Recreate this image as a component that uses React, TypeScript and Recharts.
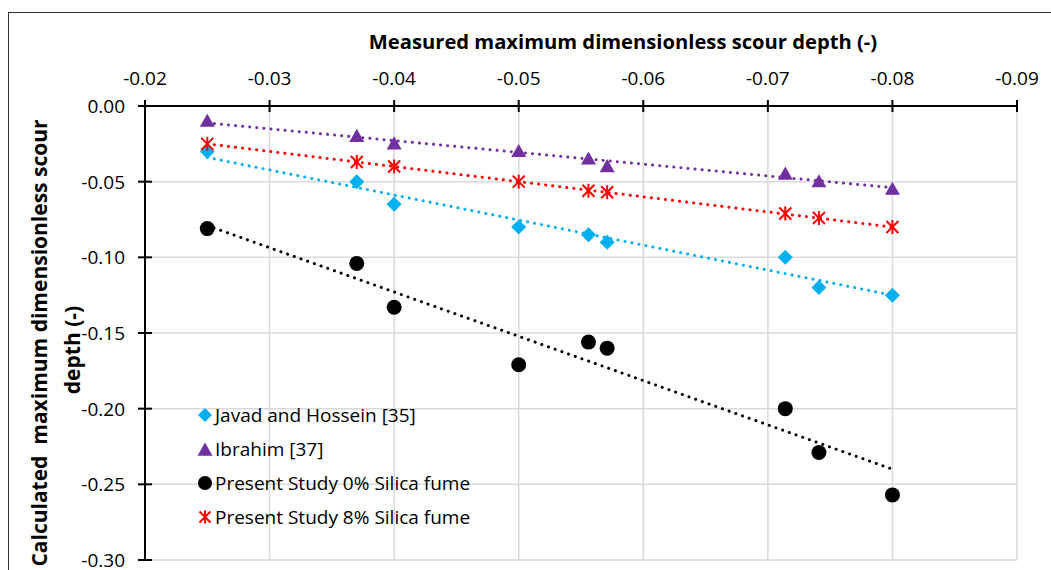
import React from 'react';
import { ScatterChart, Scatter, XAxis, YAxis, CartesianGrid, Legend } from 'recharts';

// ---- data ----
const measured = [-0.025, -0.037, -0.04, -0.05, -0.0556, -0.0571, -0.0714, -0.0741, -0.08];
const javad = [-0.03, -0.05, -0.065, -0.08, -0.085, -0.09, -0.1, -0.12, -0.125];
const ibrahim = [-0.01, -0.02, -0.025, -0.03, -0.035, -0.04, -0.045, -0.05, -0.055];
const silica0 = [-0.081, -0.104, -0.133, -0.171, -0.156, -0.16, -0.2, -0.229, -0.257];
const silica8 = [-0.025, -0.037, -0.04, -0.05, -0.056, -0.057, -0.071, -0.074, -0.08];

// trendline end points
const trendX = [-0.025, -0.08];
const javadTrend = [-0.034, -0.125];
const ibrahimTrend = [-0.0112, -0.054];
const silica0Trend = [-0.079, -0.24];
const silica8Trend = [-0.025, -0.08];

const xTicks = [-0.02, -0.03, -0.04, -0.05, -0.06, -0.07, -0.08, -0.09];
const yTicks = [0, -0.05, -0.1, -0.15, -0.2, -0.25, -0.3];

const seriesNames = [
  'Javad and Hossein [35]',
  'Ibrahim [37]',
  'Present Study 0% Silica fume',
  'Present Study 8% Silica fume',
];
const xTitle = 'Measured maximum dimensionless scour depth (-)';
const yTitle1 = 'Calculated  maximum dimensionless scour';
const yTitle2 = 'depth (-)';

const CYAN = '#00B0F0';
const PURPLE = '#7030A0';
const RED = '#FF0000';
const BLACK = '#000000';
const FONT = '"Open Sans", sans-serif';

const pts = (xs: number[], ys: number[]) => xs.map((x, i) => ({ x, y: ys[i] }));

const X_TICK_SIZE = 8;
const X_TICK_MARGIN = 0;
const Y_TICK_SIZE = 8;
const Y_TICK_MARGIN = 0;

const XTick = (props: any) => {
  const { x, y, payload } = props;
  const axisY = y + X_TICK_SIZE + X_TICK_MARGIN;
  return (
    <g>
      <line x1={x} x2={x} y1={axisY - 6} y2={axisY + 6} stroke="#000" strokeWidth={2} />
      <text x={x} y={axisY - 21} textAnchor="middle" fontFamily={FONT} fontSize={19} fill="#000">
        {Number(payload.value).toFixed(2)}
      </text>
    </g>
  );
};

const YTick = (props: any) => {
  const { x, y, payload } = props;
  const axisX = x + Y_TICK_SIZE + Y_TICK_MARGIN;
  return (
    <g>
      <line x1={axisX - 7} x2={axisX + 7} y1={y} y2={y} stroke="#000" strokeWidth={2} />
      <text x={axisX - 20} y={y} dy="0.36em" textAnchor="end" fontFamily={FONT} fontSize={19} fill="#000">
        {Number(payload.value).toFixed(2)}
      </text>
    </g>
  );
};

const Diamond = ({ cx, cy, s = 7.5 }: any) => (
  <polygon points={`${cx},${cy - s} ${cx + s},${cy} ${cx},${cy + s} ${cx - s},${cy}`} fill={CYAN} />
);
const Triangle = ({ cx, cy, s = 7.5 }: any) => (
  <polygon points={`${cx},${cy - s} ${cx + s},${cy + s * 0.75} ${cx - s},${cy + s * 0.75}`} fill={PURPLE} />
);
const Dot = ({ cx, cy, s = 7.5 }: any) => <circle cx={cx} cy={cy} r={s} fill={BLACK} />;
const Aster = ({ cx, cy, s = 6 }: any) => (
  <g stroke={RED} strokeWidth={2}>
    <line x1={cx - s} y1={cy - s} x2={cx + s} y2={cy + s} />
    <line x1={cx - s} y1={cy + s} x2={cx + s} y2={cy - s} />
    <line x1={cx} y1={cy - s - 1} x2={cx} y2={cy + s + 1} />
  </g>
);
const Nothing = () => <g />;

const legendShapes = [
  (c: number) => <Diamond cx={c} cy={c} s={7} />,
  (c: number) => <Triangle cx={c} cy={c + 1} s={7.5} />,
  (c: number) => <Dot cx={c} cy={c} s={7} />,
  (c: number) => <Aster cx={c} cy={c} s={5.5} />,
];

const renderLegend = () => (
  <div style={{ fontFamily: FONT, fontSize: 19, color: '#000' }}>
    {seriesNames.map((n, i) => (
      <div key={n} style={{ height: 34, display: 'flex', alignItems: 'center', whiteSpace: 'nowrap' }}>
        <svg width={18} height={18} style={{ marginRight: 1 }}>
          {legendShapes[i](9)}
        </svg>
        <span>{n}</span>
      </div>
    ))}
  </div>
);

const dotted = (color: string) => ({
  stroke: color,
  strokeWidth: 3,
  strokeDasharray: '0.1 7',
  strokeLinecap: 'round' as const,
});

export default function App() {
  return (
    <div style={{ position: 'absolute', left: 0, top: 0, width: 1051, height: 570, overflow: 'hidden', background: '#fff' }}>
      <div
        style={{
          position: 'absolute',
          left: 8,
          top: 12,
          width: 1100,
          height: 700,
          border: '1.5px solid #333',
          boxSizing: 'border-box',
        }}
      />
      <div style={{ position: 'absolute', left: 0, top: 0 }}>
        <ScatterChart width={1051} height={570} margin={{ top: 66, right: 34, bottom: 10, left: 85 }}>
          <CartesianGrid stroke="#D9D9D9" strokeWidth={1.5} />
          <XAxis
            dataKey="x"
            type="number"
            orientation="top"
            reversed
            domain={[-0.09, -0.02]}
            ticks={xTicks}
            interval={0}
            height={40}
            tickSize={X_TICK_SIZE}
            tickMargin={X_TICK_MARGIN}
            tickLine={false}
            axisLine={{ stroke: '#000', strokeWidth: 2 }}
            tick={<XTick />}
            allowDataOverflow
            label={{
              content: () => (
                <text x={623} y={49} textAnchor="middle" fontFamily={FONT} fontWeight="bold" fontSize={20.2} fill="#000">
                  {xTitle}
                </text>
              ),
            }}
          />
          <YAxis
            dataKey="y"
            type="number"
            domain={[-0.3, 0]}
            ticks={yTicks}
            interval={0}
            width={60}
            tickSize={Y_TICK_SIZE}
            tickMargin={Y_TICK_MARGIN}
            tickLine={false}
            axisLine={{ stroke: '#000', strokeWidth: 2 }}
            tick={<YTick />}
            allowDataOverflow
            label={{
              content: () => (
                <g fontFamily={FONT} fontWeight="bold" fontSize={21} fill="#000">
                  <text x={47} y={343} transform="rotate(-90 47 343)" textAnchor="middle" style={{ whiteSpace: 'pre' }}>
                    {yTitle1}
                  </text>
                  <text x={80} y={350} transform="rotate(-90 80 350)" textAnchor="middle">
                    {yTitle2}
                  </text>
                </g>
              ),
            }}
          />
          <Legend
            layout="vertical"
            align="center"
            verticalAlign="middle"
            content={renderLegend}
            wrapperStyle={{ position: 'absolute', left: 196, top: 398, width: 340 }}
          />
          <Scatter name={seriesNames[0]} data={pts(measured, javad)} shape={<Diamond />} isAnimationActive={false} />
          <Scatter name={seriesNames[1]} data={pts(measured, ibrahim)} shape={<Triangle />} isAnimationActive={false} />
          <Scatter name={seriesNames[2]} data={pts(measured, silica0)} shape={<Dot />} isAnimationActive={false} />
          <Scatter name={seriesNames[3]} data={pts(measured, silica8)} shape={<Aster />} isAnimationActive={false} />
          <Scatter data={pts(trendX, javadTrend)} line={dotted(CYAN)} shape={<Nothing />} legendType="none" isAnimationActive={false} />
          <Scatter data={pts(trendX, ibrahimTrend)} line={dotted(PURPLE)} shape={<Nothing />} legendType="none" isAnimationActive={false} />
          <Scatter data={pts(trendX, silica0Trend)} line={dotted(BLACK)} shape={<Nothing />} legendType="none" isAnimationActive={false} />
          <Scatter data={pts(trendX, silica8Trend)} line={dotted(RED)} shape={<Nothing />} legendType="none" isAnimationActive={false} />
        </ScatterChart>
      </div>
    </div>
  );
}
